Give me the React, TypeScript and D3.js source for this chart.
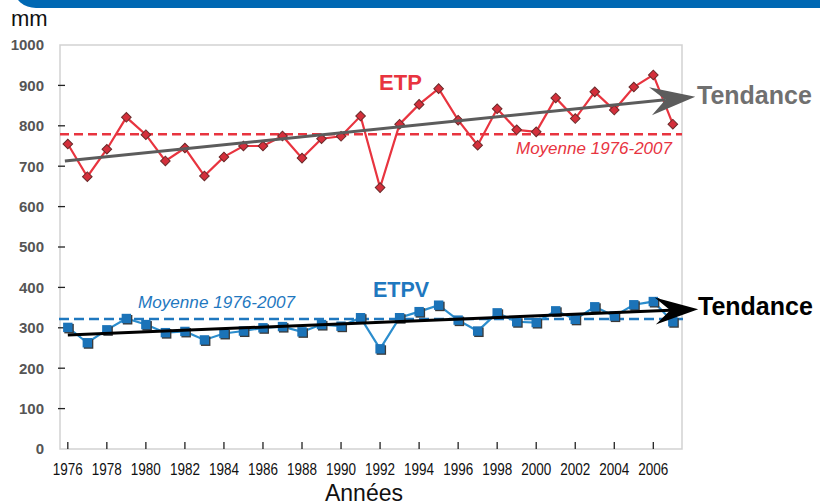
import React from "react";
import * as d3 from "d3";

// values (mm)
const years = [
  1976, 1977, 1978, 1979, 1980, 1981, 1982, 1983, 1984, 1985, 1986, 1987, 1988, 1989, 1990, 1991,
  1992, 1993, 1994, 1995, 1996, 1997, 1998, 1999, 2000, 2001, 2002, 2003, 2004, 2005, 2006, 2007,
];
const etp = [
  755, 674, 742, 821, 778, 713, 745, 676, 723, 750, 750, 775, 720, 768, 774, 824,
  647, 804, 853, 892, 814, 752, 842, 790, 785, 869, 818, 884, 839, 896, 926, 804,
];
const etpv = [
  301, 263, 295, 323, 308, 288, 291, 270, 286, 292, 300, 303, 290, 308, 304, 325,
  248, 325, 340, 356, 319, 292, 337, 315, 313, 342, 321, 352, 329, 357, 365, 315,
];
const etpMean = 779;
const etpvMean = 322;
// trend lines: [year, value] at start and at arrow tip
const etpTrend = [
  [1975.85, 713],
  [2008.15, 872],
];
const etpvTrend = [
  [1976, 282],
  [2008.3, 346],
];
const yTicks = [0, 100, 200, 300, 400, 500, 600, 700, 800, 900, 1000];
const xTicks = [1976, 1978, 1980, 1982, 1984, 1986, 1988, 1990, 1992, 1994, 1996, 1998, 2000, 2002, 2004, 2006];

const W = 820;
const H = 504;
const font = "'Liberation Sans', Arial, sans-serif";

const x = d3.scaleLinear().domain([1975.6, 2007.47]).range([60, 682]);
const y = d3.scaleLinear().domain([0, 1000]).range([449, 45]);

const RED = "#e8343f";
const BLUE = "#1f78bf";

function Arrow({ trend, color, len, half }) {
  const [p0, p1] = trend;
  const x0 = x(p0[0]);
  const y0 = y(p0[1]);
  const x1 = x(p1[0]);
  const y1 = y(p1[1]);
  const dx = x1 - x0;
  const dy = y1 - y0;
  const d = Math.hypot(dx, dy);
  const ux = dx / d;
  const uy = dy / d;
  const nx = -uy;
  const ny = ux;
  const bx = x1 - ux * len;
  const by = y1 - uy * len;
  const notch = len - 15;
  const mx = x1 - ux * notch;
  const my = y1 - uy * notch;
  const head = `M${x1},${y1}L${bx + nx * half},${by + ny * half}L${mx},${my}L${bx - nx * half},${by - ny * half}Z`;
  return (
    <g>
      <line x1={x0} y1={y0} x2={mx} y2={my} stroke={color} strokeWidth={3} />
      <path d={head} fill={color} />
    </g>
  );
}

export default function App() {
  const etpLine = d3
    .line<number>()
    .x((_, i) => x(years[i]))
    .y((d) => y(d))(etp);
  const etpvLine = d3
    .line<number>()
    .x((_, i) => x(years[i]))
    .y((d) => y(d))(etpv);

  return (
    <div style={{ position: "absolute", left: 0, top: 0 }}>
      <svg width={W} height={H} style={{ display: "block", background: "#fff" }} fontFamily={font}>
        {/* header band */}
        <rect x={14} y={-30} width={830} height={38} rx={22} fill="#0068b3" />

        <text x={11} y={26} fontSize={22} fill="#111">
          mm
        </text>

        {/* plot frame */}
        <rect x={60} y={45} width={622} height={404} fill="none" stroke="#d2d2d2" strokeWidth={1.5} />

        {/* y axis */}
        {yTicks.map((t) => (
          <g key={t}>
            {t > 0 && t < 1000 && <line x1={58} x2={65} y1={y(t)} y2={y(t)} stroke="#222" strokeWidth={1.3} />}
            <text x={44} y={y(t)} dy="0.36em" textAnchor="end" fontSize={15} fontWeight="bold" fill="#555">
              {t}
            </text>
          </g>
        ))}

        {/* x axis */}
        {xTicks.map((t) => (
          <g key={t}>
            <line x1={x(t)} x2={x(t)} y1={442} y2={449} stroke="#222" strokeWidth={1.3} />
            <text x={x(t)} y={475} textAnchor="middle" fontSize={16} fill="#111" textLength={30} lengthAdjust="spacingAndGlyphs">
              {t}
            </text>
          </g>
        ))}
        <text x={364} y={500.5} textAnchor="middle" fontSize={23} fill="#111">
          Années
        </text>

        {/* means */}
        <line x1={60} x2={682} y1={y(etpMean)} y2={y(etpMean)} stroke={RED} strokeWidth={2.5} strokeDasharray="9 5" />
        <line x1={59} x2={683} y1={y(etpvMean)} y2={y(etpvMean)} stroke={BLUE} strokeWidth={2.5} strokeDasharray="10 5" />

        {/* ETP series */}
        <path d={etpLine} fill="none" stroke={RED} strokeWidth={2.2} />
        {etp.map((v, i) => (
          <rect
            key={i}
            x={-3.4}
            y={-3.4}
            width={6.8}
            height={6.8}
            transform={`translate(${x(years[i])},${y(v)}) rotate(45)`}
            fill="#d42f3b"
            stroke="#6a2a2a"
            strokeWidth={1}
          />
        ))}

        {/* ETPV series */}
        <path d={etpvLine} fill="none" stroke="#2b8dcd" strokeWidth={2.2} />
        {etpv.map((v, i) => (
          <g key={i} transform={`translate(${x(years[i])},${y(v)})`}>
            <rect x={-3.5} y={-3.5} width={9.5} height={9.5} fill="#3a3a3a" />
            <rect x={-4.7} y={-4.7} width={9.4} height={9.4} fill="#1b73b8" />
          </g>
        ))}

        {/* trends */}
        <Arrow trend={etpTrend} color="#5c5c5c" len={45} half={14} />
        <Arrow trend={etpvTrend} color="#000" len={43} half={13.5} />

        {/* labels */}
        <text x={400.5} y={90} textAnchor="middle" fontSize={22} fontWeight="bold" fill={RED}>
          ETP
        </text>
        <text x={401} y={296.7} textAnchor="middle" fontSize={21.5} fontWeight="bold" fill={BLUE}>
          ETPV
        </text>
        <text x={516} y={154} fontSize={16.5} fontStyle="italic" fill={RED} textLength={156} lengthAdjust="spacingAndGlyphs">
          Moyenne 1976-2007
        </text>
        <text x={138} y={308.3} fontSize={16.5} fontStyle="italic" fill={BLUE} textLength={157} lengthAdjust="spacingAndGlyphs">
          Moyenne 1976-2007
        </text>
        <text x={697} y={104.3} fontSize={25} fontWeight="bold" fill="#707070">
          Tendance
        </text>
        <text x={698} y={315} fontSize={25} fontWeight="bold" fill="#000">
          Tendance
        </text>
      </svg>
    </div>
  );
}
